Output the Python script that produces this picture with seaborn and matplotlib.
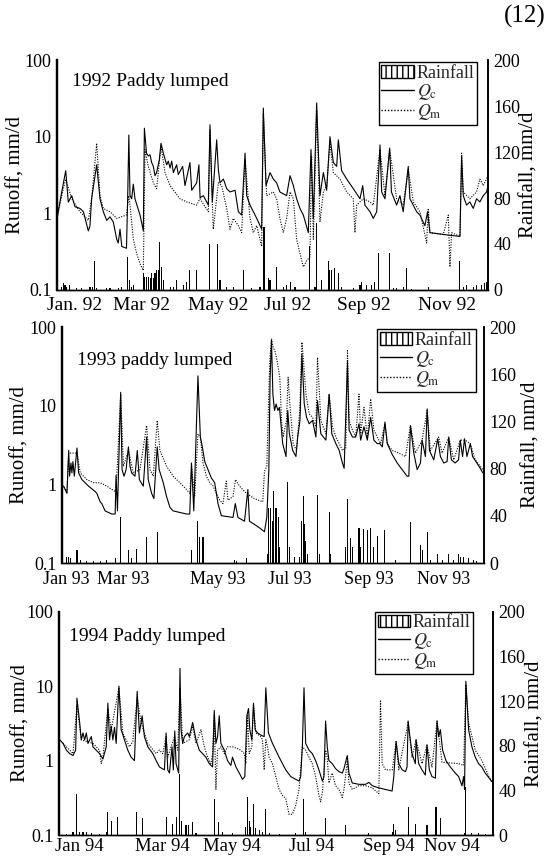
import matplotlib
matplotlib.use("Agg")
import matplotlib.pyplot as plt
import seaborn as sns
import pandas as pd
from matplotlib.lines import Line2D
from matplotlib.patches import Patch
from matplotlib.ticker import FixedLocator, NullLocator

sns.set_theme(style="white")
plt.rcParams["font.family"] = ["Liberation Serif", "DejaVu Serif"]
plt.rcParams["mathtext.fontset"] = "stix"
plt.rcParams["hatch.linewidth"] = 1.0

# ---------------- 1992 ----------------
qc92_day = [0, 4, 7.4, 9.6, 12.5, 15.3, 19.5, 22.4, 26.6, 28,
            29.4, 33.7, 36.5, 39.3, 42.2, 45, 47.8, 50.7, 52, 53.5,
            55, 59, 60, 61, 62, 63.4, 64.8, 66.2, 70.5, 73.3,
            74.2, 76, 77.5, 79, 80.4, 81.8, 83.2, 84.6, 86.9, 88.3,
            90.3, 93.1, 94.5, 96, 97.4, 98.8, 101.6, 103, 106.7, 108.7,
            112.9, 114.4, 118.6, 120.5, 121.5, 124.3, 128.5, 129.9, 131.9, 135.6,
            137, 138.4, 141.3, 144.1, 146.9, 151.2, 154, 156.8, 159.7, 161.1,
            163.9, 166.7, 169.6, 173.8, 175.2, 177.5, 180.9, 183.7, 186.5, 189.3,
            195, 197.9, 200.7, 203.5, 206.3, 209.2, 213.4, 215.7, 217.7, 220.5,
            223.3, 226.2, 229, 231.8, 234.7, 237.5, 238.9, 241.7, 246, 251.6,
            257.3, 259.6, 261.5, 265.8, 268.6, 271.5, 274.3, 275.7, 278.5, 282.5,
            284, 288.4, 291.2, 294, 298.3, 299.7, 305.4, 308.2, 312.4, 314.7,
            316.7, 328, 342.2, 343.6, 345, 347.8, 350.6, 353.5, 356.3, 359.1,
            362, 364.8, 366]
qc92_val = [0.86, 1.9, 3.6, 1.4, 1.7, 1.22, 1.16, 1.05, 0.59, 0.69,
            1.55, 4.3, 1.55, 1.05, 0.81, 0.9, 0.77, 0.46, 0.41, 0.62,
            0.37, 0.35, 1.55, 10.5, 1.7, 1.55, 2.4, 1.55, 0.95, 0.59,
            12.9, 6.1, 5.6, 5.8, 4.6, 4.1, 3.1, 3.4, 5.0, 8.2,
            6.1, 4.3, 4.8, 3.9, 4.8, 3.4, 4.3, 3.2, 4.1, 2.3,
            4.6, 2.0, 2.5, 4.3, 1.6, 1.7, 1.28, 14.3, 1.41, 9.1,
            3.75, 2.5, 2.8, 2.1, 1.9, 2.0, 1.05, 0.95, 6.1, 1.7,
            1.28, 1.05, 0.86, 0.62, 23.6, 2.3, 3.4, 2.8, 2.5, 1.9,
            1.7, 3.1, 2.3, 1.55, 1.16, 0.95, 0.56, 6.8, 0.86, 27.5,
            1.7, 3.4, 2.0, 10, 4.6, 4.1, 9.1, 3.6, 2.8, 2.1,
            1.55, 2.3, 1.28, 1.05, 0.86, 1.05, 7.8, 1.9, 1.55, 7.1,
            1.9, 1.28, 1.7, 1.05, 4.1, 1.55, 1.05, 0.95, 0.69, 1.05,
            0.56, 0.53, 0.5, 5.6, 1.7, 1.28, 1.41, 1.16, 1.55, 1.41,
            1.7, 1.9, 2.3]
qm92_day = [0, 4, 7.4, 12.5, 19.5, 26.6, 29.4, 33.7, 36.5, 39.3,
            45, 50.7, 59, 61, 62, 64.8, 67.6, 70.5, 73.3, 74.7,
            77.5, 81.8, 84.6, 88.3, 91.7, 96, 104.4, 110.1, 118.6, 121.4,
            128.5, 129.9, 132.7, 137, 139.8, 144.1, 146.9, 149.7, 154, 156.8,
            159.7, 163.9, 166.7, 169.6, 173.8, 175.2, 178, 183.7, 186.5, 189.3,
            192.2, 195, 197.9, 200.7, 203.5, 206.3, 209.2, 212, 214.8, 216.2,
            217.7, 220.5, 223.3, 226.2, 229, 231.8, 234.7, 240.3, 246, 251.6,
            253, 254.5, 260.1, 265.8, 268.6, 274.3, 278.5, 282.5, 288.4, 294,
            298.3, 302.6, 308.2, 313.9, 315.3, 316.7, 328, 332.3, 333.7, 335.1,
            342.2, 343.6, 345, 350.6, 356.3, 359.1, 362, 366]
qm92_val = [0.86, 1.7, 2.8, 1.55, 1.05, 0.81, 1.55, 8.2, 1.7, 1.16,
            1.05, 0.86, 0.95, 1.7, 1.28, 0.46, 0.30, 0.22, 0.18, 6.8,
            4.1, 2.5, 2.1, 7.5, 3.4, 2.3, 1.55, 1.41, 1.28, 1.55,
            1.05, 12.2, 0.62, 2.5, 2.3, 1.16, 0.62, 0.86, 0.69, 0.56,
            5.0, 0.86, 0.56, 0.69, 0.37, 20, 1.7, 1.9, 1.55, 0.86,
            0.56, 0.86, 1.9, 1.55, 0.46, 0.30, 0.20, 0.24, 0.27, 5.6,
            0.46, 22, 0.77, 1.9, 2.3, 8.2, 3.4, 2.8, 1.9, 1.55,
            0.56, 1.28, 1.55, 1.41, 1.28, 6.8, 1.7, 6.8, 1.55, 1.28,
            3.75, 1.41, 1.05, 0.41, 1.16, 0.56, 0.53, 0.95, 0.2, 0.56,
            0.5, 6.1, 1.9, 1.55, 1.9, 2.8, 2.3, 3.1]
rain92_day = [4, 5.4, 6.8, 8.2, 11, 16.7, 21, 28, 30.3, 31.7,
              33.7, 42.2, 45, 52, 55, 59.7, 61.4, 63.4, 64.8, 73.3,
              74.7, 76.1, 77.5, 79, 80.4, 81.8, 83.2, 84.6, 86, 86.9,
              88.9, 90.3, 96, 98.8, 101.6, 107.3, 110.1, 112.9, 118.6, 129.4,
              136.1, 138.4, 144.1, 149.7, 158.2, 165.3, 172.4, 175.8, 179.5, 180.9,
              186.5, 192.2, 195, 197.9, 202.1, 214.8, 219.1, 220.5, 224.8, 230.5,
              231.8, 233.2, 236, 238.9, 241.7, 251.6, 257.3, 258.7, 262.9, 267.2,
              270, 272.9, 282.5, 285.4, 288.4, 294, 296.8, 301.2, 315.3, 342.2,
              345, 347.8, 353.5, 356.3, 360.6, 363.4, 364.8]
rain92_val = [3, 6, 4, 3, 4, 1.5, 1.5, 3, 3, 25,
              1.5, 1.5, 1.5, 1.5, 3, 29, 9, 3, 4, 14.5,
              11.6, 11.6, 11.6, 10, 14.5, 10, 14.5, 17, 17, 42,
              20, 9, 3, 3, 9, 4, 7, 17, 17, 40,
              40, 9, 3, 3, 17, 1.5, 3, 55, 10, 9,
              20, 3, 4, 7, 3, 38, 3, 58, 9, 25,
              17, 17, 19, 14.5, 3, 1.5, 4, 7, 4, 4,
              7, 32, 32, 1.5, 1.5, 3, 19, 0.5, 3, 25,
              3, 4, 3, 4, 4, 6, 7]

# ---------------- 1993 ----------------
qc93_day = [0, 1.4, 4.3, 5.8, 6.6, 7.8, 8.6, 9.5, 10.7, 13,
            14.4, 17.3, 23, 28.8, 30.2, 33.1, 34.5, 37.4, 43.2, 46.1,
            46.9, 48.1, 50.9, 52.1, 53.8, 55.6, 57.6, 59, 60.4, 63.3,
            65.3, 67.1, 70.5, 73.4, 74.8, 77.7, 79.7, 82.6, 84.3, 87.8,
            90.7, 93.6, 96.4, 108, 110.8, 112.3, 114.3, 117.9, 120, 121.7,
            123.8, 126.6, 129.5, 132.4, 135.3, 138.2, 148.3, 150.3, 152.6, 158.3,
            161.2, 162.6, 166.9, 171.3, 175.6, 177.6, 179.4, 180.5, 181.7, 182.9,
            184.3, 185.7, 187.2, 188.6, 191.4, 194.3, 195.8, 197.2, 200.1, 202.9,
            204.4, 206.4, 208.1, 210.1, 212.1, 214.4, 217.3, 220.2, 221.6, 224.5,
            228.9, 231.7, 234, 237.5, 240.4, 243.2, 244.7, 247.6, 249, 251.9,
            254.7, 257.6, 259, 261.9, 264.8, 267.7, 270.5, 273.4, 275.5, 277.8,
            280.1, 282.1, 286.4, 290.7, 295, 299.3, 300.8, 302.2, 305.1, 308,
            310.9, 312.3, 315.2, 316.7, 318.7, 322.4, 325.9, 328.2, 331.1, 334,
            335.4, 337.7, 341, 343.9, 345.4, 347.4, 349.1, 351.2, 354.1, 356.1,
            359.8, 362.7, 365]
qc93_val = [0.95, 0.95, 0.77, 2.7, 1.27, 1.87, 1.4, 1.95, 1.27, 2.9,
            1.4, 1.15, 0.95, 0.81, 0.77, 0.6, 0.57, 0.46, 0.42, 0.42,
            1.3, 0.46, 14.8, 1.54, 1.27, 1.54, 3.0, 1.7, 1.4, 1.27,
            2.7, 1.15, 0.95, 4.0, 1.15, 0.77, 0.66, 3.0, 1.54, 1.05,
            0.7, 0.51, 0.46, 0.42, 0.42, 1.87, 0.46, 24, 4.0, 3.0,
            1.95, 1.54, 1.21, 1.05, 0.57, 0.40, 0.38, 0.57, 0.38, 0.34,
            0.86, 0.34, 0.31, 0.28, 0.25, 0.38, 1.54, 23, 68, 14,
            8.7, 10.5, 8.7, 9.5, 3.3, 2.26, 8.7, 4.4, 2.7, 2.26,
            4.0, 6.5, 45, 10.5, 7.1, 5.9, 6.5, 4.0, 11.6, 4.4,
            3.65, 14, 4.4, 3.3, 2.7, 1.87, 1.6, 36, 4.9, 4.0,
            4.0, 5.9, 3.65, 5.4, 3.65, 7.1, 3.65, 3.3, 3.3, 3.0,
            6.2, 3.3, 2.4, 1.87, 1.54, 1.27, 1.27, 5.6, 2.5, 1.54,
            1.87, 3.65, 2.26, 9.1, 2.7, 2.05, 3.8, 2.26, 1.87, 1.95,
            4.0, 2.05, 1.87, 2.05, 3.65, 2.26, 3.8, 2.26, 3.3, 2.26,
            1.87, 1.6, 1.4]
qm93_day = [0, 1.4, 4.3, 5.8, 13, 15.8, 21.6, 27.3, 33.1, 38.9,
            46.1, 47.5, 50.9, 53.3, 57.6, 61.9, 67.6, 73.4, 76.3, 79.2,
            82.6, 84.9, 90.7, 96.4, 102.2, 108, 110.8, 112.3, 115.1, 117.9,
            120, 122.3, 125.2, 128.1, 131, 136.7, 139.6, 142.5, 143.9, 148.3,
            150.5, 154, 159.8, 166.9, 174.1, 175.6, 177.6, 180.2, 181.7, 183.1,
            184.6, 186, 187.5, 188.9, 190.4, 191.8, 194.7, 196.1, 197.6, 200.5,
            203.4, 206.2, 208.1, 209.2, 211.6, 214.4, 217.3, 220.2, 221.6, 224.5,
            228.9, 231.7, 234.6, 237.5, 240.4, 243.2, 246.1, 247.6, 249, 251.9,
            254.7, 257.6, 259, 261.9, 264.8, 267.7, 270.5, 273.4, 276.3, 280.1,
            282.1, 286.4, 292.1, 297.9, 302.2, 306.5, 312.3, 316.7, 319.5, 326.7,
            329.6, 335.4, 339.7, 345.4, 349.7, 354.1, 358.4, 365]
qm93_val = [0.95, 0.95, 0.77, 2.5, 2.5, 1.4, 1.15, 1.05, 1.05, 0.95,
            0.81, 1.27, 14, 1.7, 2.7, 1.4, 1.54, 5.6, 1.54, 1.27,
            6.5, 2.7, 1.7, 1.27, 1.05, 0.86, 0.77, 1.7, 0.7, 4.4,
            4.0, 1.87, 1.27, 1.05, 0.95, 0.63, 0.57, 1.1, 0.63, 0.7,
            1.15, 0.95, 0.77, 0.66, 0.6, 1.46, 1.7, 37.5, 71, 56,
            50, 41, 31, 23, 6.5, 4.0, 6.5, 23, 10.5, 3.3,
            2.7, 8.7, 64, 41, 14, 7.9, 7.1, 5.4, 41, 6.5,
            4.4, 14, 5.4, 4.0, 3.3, 2.7, 2.9, 50, 6.5, 4.9,
            4.0, 14, 4.4, 9.5, 4.0, 12.2, 4.9, 4.0, 3.3, 5.9,
            3.3, 2.7, 2.5, 2.26, 5.6, 2.5, 3.65, 8.7, 2.7, 4.0,
            2.5, 4.0, 2.05, 3.65, 3.65, 3.3, 2.05, 1.54]
rain93_day = [4.3, 5.8, 7.2, 13, 15.8, 21.6, 27.3, 33.1, 38.9, 46.1,
              50.9, 57.6, 59.9, 64.8, 73.4, 82.6, 112.3, 117.9, 119.4, 122.3,
              149.7, 151.1, 159.8, 178.5, 179.4, 180.5, 182.3, 183.7, 185.2, 186.3,
              187.5, 188.6, 195.8, 197.2, 201.5, 205.9, 207.3, 209.3, 210.5, 211.6,
              213.1, 221.6, 223.1, 231.7, 233.2, 246.1, 247.6, 250.4, 251.9, 257.6,
              259, 261.9, 264.8, 267.7, 270.5, 273.4, 280.1, 289.3, 302.2, 310.9,
              312.3, 316.7, 319.5, 325.3, 329.6, 335.4, 339.7, 344, 345.4, 348.3,
              352.6, 356.9, 359.8]
rain93_val = [5.5, 5.5, 4, 11, 3, 1.5, 1.5, 1.5, 3, 4,
              39, 11, 4, 12, 22, 26, 11, 36, 22, 22,
              3, 1.5, 4, 8, 47, 47, 36, 61, 47, 47,
              39, 14, 69, 14, 5.5, 5.5, 36, 57, 33, 19,
              8, 58, 8, 43, 8, 14, 54, 21, 14, 30,
              14, 29, 28, 30, 14, 23, 28, 3, 35, 15,
              11, 26, 3, 8, 3, 8, 3, 8, 5.5, 5.5,
              4, 3, 1.5]

# ---------------- 1994 ----------------
qc94_day = [0, 0.6, 3.4, 6.2, 9, 11.8, 14, 15.1, 17.4, 18.8,
            20.2, 21.6, 23, 24.4, 27.2, 28.6, 31.4, 34.2, 37, 39.8,
            41.2, 42.6, 44, 45.4, 46.8, 48.2, 50.5, 52.4, 55.2, 58,
            60.8, 63.6, 65.9, 67.8, 70.1, 72, 74.9, 79.1, 81.9, 84.7,
            88.9, 90.3, 91.7, 93.1, 95.3, 96.4, 97.6, 98.7, 100.9, 102,
            102.9, 104.3, 105.7, 108.5, 109.9, 112.7, 115.5, 118.3, 121.1, 123.9,
            126.7, 129.5, 130.9, 132.3, 133.7, 135.1, 136.5, 139.4, 142.1, 144.9,
            146.3, 149.2, 152, 154.7, 156.7, 158.4, 159.8, 160.9, 162.6, 164,
            165.4, 167.4, 170.2, 173, 174.4, 176.6, 180, 182.8, 185.6, 188.4,
            191.2, 195.4, 199.6, 202.4, 203.8, 205.2, 206.6, 208, 210.8, 213.6,
            216.4, 219.2, 222.1, 223.4, 224.8, 226.2, 227.6, 230.4, 233.2, 236.1,
            238.9, 240.3, 243.1, 244.5, 247.3, 252.9, 258.5, 261.3, 264.1, 269.7,
            280.9, 282.3, 284.3, 286.5, 289.4, 292.2, 293.5, 294.4, 295.5, 297.7,
            300.5, 301.1, 303.3, 306.1, 308.9, 310.3, 312.3, 314.5, 317.4, 318.8,
            320.2, 321.6, 323.5, 326.3, 330, 334.2, 337, 339.8, 341.2, 342,
            343.1, 345.4, 348.2, 351, 353.8, 356.6, 359.4, 363.6, 365]
qc94_val = [1.9, 1.9, 1.7, 1.38, 1.24, 1.17, 1.38, 6.9, 3.25, 1.9,
            2.35, 1.9, 2.35, 1.7, 2.1, 1.53, 1.38, 1.24, 1.05, 1.53,
            5.9, 1.9, 2.9, 1.9, 2.8, 1.7, 10, 2.6, 1.9, 1.38,
            1.11, 1.0, 8.5, 2.35, 4.0, 2.1, 1.53, 1.24, 1.0, 0.82,
            0.75, 2.35, 0.75, 0.68, 1.53, 0.75, 2.5, 0.91, 0.68, 17.3,
            2.6, 1.7, 2.1, 2.35, 2.1, 3.25, 1.9, 1.38, 1.24, 1.11,
            0.91, 0.82, 4.7, 1.7, 2.1, 4.0, 1.7, 1.38, 1.0, 0.86,
            1.11, 0.82, 0.68, 0.56, 0.61, 4.0, 5.0, 2.6, 1.9, 5.9,
            2.6, 2.35, 2.2, 2.1, 9.5, 2.35, 1.7, 1.38, 1.11, 0.91,
            0.75, 0.61, 0.56, 0.53, 0.61, 1.53, 9.5, 1.7, 1.38, 1.24,
            1.0, 0.75, 0.53, 0.61, 3.4, 1.53, 1.0, 0.91, 0.78, 0.71,
            0.68, 0.78, 1.17, 0.68, 0.50, 0.48, 0.48, 0.51, 0.46, 0.43,
            0.39, 0.61, 1.8, 0.91, 0.75, 0.71, 0.82, 3.4, 2.35, 1.24,
            0.91, 1.9, 0.91, 0.75, 0.64, 1.62, 0.75, 0.61, 0.58, 3.4,
            2.1, 2.6, 1.38, 1.0, 0.82, 0.68, 0.61, 0.46, 0.61, 0.41,
            11.6, 2.6, 1.53, 1.11, 0.91, 0.82, 0.68, 0.56, 0.52]
qm94_day = [0, 0.6, 9, 11.8, 15.1, 18.8, 28.6, 34.2, 35.6, 37,
            41.2, 44, 50.5, 53.8, 59.4, 62.2, 65.9, 69.2, 74.9, 81.9,
            84.7, 87.5, 90.3, 91.7, 94.5, 97.3, 100.1, 102, 104.3, 109.9,
            112.7, 115.5, 119.7, 122.5, 125.3, 128.1, 129.5, 130.9, 132.3, 133.7,
            136.5, 139.4, 142.1, 146.3, 150.5, 153.3, 156.2, 157.6, 159, 160.4,
            162.6, 164, 166, 170.2, 171.6, 173, 174.4, 175.8, 177.2, 180,
            182.8, 185.6, 188.4, 191.2, 194, 196.8, 199.6, 202.4, 205.2, 208,
            210.8, 213.6, 216.4, 219.2, 220.6, 222.1, 224.8, 226.2, 227.6, 230.4,
            233.2, 236.1, 238.9, 240.3, 243.1, 244.5, 247.3, 252.9, 258.5, 264.1,
            269.7, 271.1, 272.5, 275.3, 281, 284.3, 286.5, 294.4, 297.7, 301.1,
            306.1, 310.3, 314.5, 318.8, 323, 337, 341.2, 343.1, 345.4, 351,
            356.6, 363.6, 365]
qm94_val = [1.9, 1.9, 1.38, 1.24, 5.5, 1.9, 1.7, 1.38, 0.91, 1.11,
            5.0, 2.6, 9.5, 2.35, 1.53, 1.8, 6.9, 3.25, 1.7, 1.24,
            1.38, 1.24, 2.1, 1.11, 1.53, 2.1, 1.38, 9.5, 1.7, 1.9,
            2.9, 1.7, 2.6, 1.53, 1.11, 0.91, 1.24, 4.0, 0.41, 1.38,
            1.53, 1.24, 1.53, 1.53, 1.45, 1.38, 1.24, 0.91, 4.0, 1.24,
            1.53, 5.5, 2.35, 2.1, 1.9, 0.75, 1.9, 1.53, 1.11, 0.91,
            0.61, 0.41, 0.34, 0.31, 0.19, 0.19, 0.25, 0.41, 1.53, 1.38,
            1.11, 0.91, 0.61, 0.34, 0.28, 0.375, 1.38, 1.11, 0.50, 0.68,
            0.46, 0.41, 0.32, 0.41, 1.0, 0.50, 0.41, 0.46, 0.46, 0.43,
            0.36, 6.5, 0.91, 0.75, 0.75, 1.8, 0.75, 3.25, 1.11, 1.9,
            0.91, 1.62, 0.82, 3.4, 0.95, 0.91, 0.86, 10.5, 3.25, 1.38,
            1.0, 0.56, 0.52]
rain94_day = [0.6, 6.2, 11.8, 15.1, 17.4, 20.2, 23, 27.2, 34.2, 39.8,
              41.2, 44, 49.6, 65, 70.1, 90.3, 95.9, 98.7, 101.5, 102.9,
              107.1, 109.3, 112.7, 115.5, 130.9, 134.6, 138, 146.4, 157.6, 159,
              160.4, 161.8, 163.7, 166, 168.8, 171.6, 174.4, 177.2, 185.6, 199.6,
              205.8, 208, 224.8, 241.6, 261.3, 280.9, 282.3, 283.7, 294.4, 300.5,
              310.3, 317.9, 321.6, 341.7, 343.1, 348.2, 353.8, 359.4]
rain94_val = [1.5, 1, 3, 37, 3, 3, 3, 1.5, 1, 3,
              21, 13, 16, 21, 15, 16, 10, 16, 55, 13,
              9, 9, 12, 1.5, 32, 12, 3, 1.5, 7, 34,
              13, 7, 28, 6, 4.5, 3, 23.5, 1.5, 1, 2,
              32, 3, 15, 9, 1.5, 3, 10, 4.5, 25, 10,
              9, 25, 15, 1.5, 43, 1.5, 1.5, 1]

titles = ["1992 Paddy lumped", "1993 paddy lumped", "1994 Paddy lumped"]
xlabels92 = ["Jan. 92", "Mar 92", "May 92", "Jul 92", "Sep 92", "Nov 92"]
xlabels93 = ["Jan 93", "Mar 93", "May 93", "Jul 93", "Sep 93", "Nov 93"]
xlabels94 = ["Jan 94", "Mar 94", "May 94", "Jul 94", "Sep 94", "Nov 94"]
runoff_ticks = [0.1, 1, 10, 100]
runoff_ticklabels = ["0.1", "1", "10", "100"]
rain_ticks = [0, 40, 80, 120, 160, 200]

panels = [
    dict(rect=[0.1018, 0.6628, 0.7696, 0.2674], qc=(qc92_day, qc92_val), qm=(qm92_day, qm92_val),
         rain=(rain92_day, rain92_val), title=titles[0], tpos=(0.035, 0.905),
         xt=[15, 72, 137, 196, 261, 331], xl=xlabels92, ll=-0.072, rl=1.074,
         leg=(0.975, 0.99), xpad=5, xfs=14),
    dict(rect=[0.1107, 0.3453, 0.7536, 0.2744], qc=(qc93_day, qc93_val), qm=(qm93_day, qm93_val),
         rain=(rain93_day, rain93_val), title=titles[1], tpos=(0.036, 0.86),
         xt=[4, 53, 135, 198, 266, 331], xl=xlabels93, ll=-0.078, rl=1.09,
         leg=(0.98, 0.99), xpad=6, xfs=13),
    dict(rect=[0.1054, 0.0290, 0.7750, 0.2598], qc=(qc94_day, qc94_val), qm=(qm94_day, qm94_val),
         rain=(rain94_day, rain94_val), title=titles[2], tpos=(0.022, 0.89),
         xt=[17, 87, 146, 213, 278, 331], xl=xlabels94, ll=-0.066, rl=1.074,
         leg=(0.955, 1.0), xpad=2, xfs=13.5),
]

fig = plt.figure(figsize=(5.6, 8.6), dpi=100)
fig.patch.set_facecolor("white")

for p in panels:
    ax = fig.add_axes(p["rect"])
    ax.set_facecolor("white")
    dfc = pd.DataFrame({"day": p["qc"][0], "q": p["qc"][1]})
    dfm = pd.DataFrame({"day": p["qm"][0], "q": p["qm"][1]})
    sns.lineplot(data=dfc, x="day", y="q", ax=ax, color="black", lw=0.8,
                 estimator=None, sort=False)
    sns.lineplot(data=dfm, x="day", y="q", ax=ax, color="black", lw=0.8,
                 linestyle=(0, (1, 1.3)), estimator=None, sort=False)
    ax.set_yscale("log")
    ax.set_ylim(0.1, 100)
    ax.set_xlim(0, 366)
    ax.yaxis.set_major_locator(FixedLocator(runoff_ticks))
    ax.yaxis.set_minor_locator(NullLocator())
    ax.set_yticklabels(runoff_ticklabels)
    ax.set_xticks(p["xt"])
    ax.set_xticklabels(p["xl"])
    ax.tick_params(axis="y", length=0, labelsize=13, pad=4, colors="black")
    ax.tick_params(axis="x", length=0, labelsize=p["xfs"], pad=p["xpad"], colors="black")
    ax.set_xlabel("")
    ax.set_ylabel("Runoff, mm/d", fontsize=15, color="black")
    ax.yaxis.set_label_coords(p["ll"], 0.5)
    ax.text(p["tpos"][0], p["tpos"][1], p["title"], transform=ax.transAxes,
            fontsize=14, ha="left", va="center", color="black")

    ax2 = ax.twinx()
    ax2.bar(p["rain"][0], p["rain"][1], width=0.9, color="black", linewidth=0)
    ax2.set_ylim(0, 200)
    ax2.set_yticks(rain_ticks)
    ax2.set_yticklabels([str(t) for t in rain_ticks])
    ax2.tick_params(axis="y", length=0, labelsize=13, pad=4, colors="black")
    ax2.set_ylabel("Rainfall, mm/d", fontsize=15, color="black")
    ax2.yaxis.set_label_coords(p["rl"], 0.5)
    ax2.grid(False)
    ax.grid(False)

    for a in (ax, ax2):
        a.spines["top"].set_visible(False)
        a.spines["left"].set_linewidth(1.6)
        a.spines["right"].set_linewidth(1.2)
        a.spines["bottom"].set_linewidth(1.0)
        for s in a.spines.values():
            s.set_color("black")

    handles = [Patch(facecolor="white", edgecolor="black", hatch="|||", lw=1.0),
               Line2D([], [], color="black", lw=1.0),
               Line2D([], [], color="black", lw=1.0, linestyle=(0, (1, 1.3)))]
    labels = ["Rainfall", r"$Q_\mathrm{c}$", r"$Q_\mathrm{m}$"]
    leg = ax2.legend(handles, labels, loc="upper right", bbox_to_anchor=p["leg"],
                     fontsize=13, frameon=True, fancybox=False, framealpha=1,
                     edgecolor="black", borderpad=0.15, labelspacing=0.0,
                     handlelength=1.8, handletextpad=0.15, borderaxespad=0.0)
    leg.get_frame().set_linewidth(1.0)

fig.text(0.975, 0.994, "(12)", fontsize=18, ha="right", va="top", color="black")

fig.savefig("out.png", dpi=100, facecolor="white")
